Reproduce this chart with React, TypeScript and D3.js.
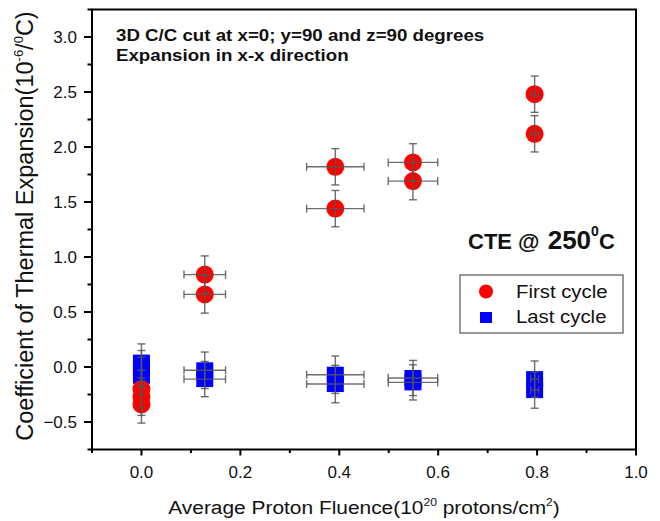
import React from "react";
import * as d3 from "d3";

const firstX = [0, 0, 0, 0.128, 0.128, 0.392, 0.392, 0.549, 0.549, 0.795, 0.795];
const firstY = [-0.2, -0.27, -0.34, 0.84, 0.66, 1.82, 1.44, 1.86, 1.69, 2.48, 2.12];
const firstXErr = [0, 0, 0, 0.042, 0.042, 0.058, 0.058, 0.05, 0.05, 0.008, 0.008];
const firstYErr = [0.17, 0.17, 0.17, 0.17, 0.17, 0.165, 0.165, 0.17, 0.17, 0.165, 0.165];

const lastX = [0, 0, 0, 0.128, 0.128, 0.392, 0.392, 0.549, 0.549, 0.795, 0.795];
const lastY = [0.04, -0.02, -0.08, -0.03, -0.11, -0.07, -0.155, -0.1, -0.14, -0.11, -0.21];
const lastXErr = [0, 0, 0, 0.042, 0.042, 0.058, 0.058, 0.05, 0.05, 0.008, 0.008];
const lastYErr = [0.17, 0.17, 0.17, 0.166, 0.16, 0.17, 0.17, 0.16, 0.16, 0.165, 0.165];

const xMajorTicks = [0, 0.2, 0.4, 0.6, 0.8, 1.0];
const xMinorTicks = [-0.1, 0.1, 0.3, 0.5, 0.7, 0.9];
const yMajorTicks = [-0.5, 0, 0.5, 1.0, 1.5, 2.0, 2.5, 3.0];
const yMinorTicks = [-0.75, -0.25, 0.25, 0.75, 1.25, 1.75, 2.25, 2.75, 3.25];

const seriesNames = ["First cycle", "Last cycle"];

const FONT = "'Liberation Sans', Arial, Helvetica, sans-serif";

export default function App() {
  const W = 660, H = 521;
  const left = 92, right = 636, top = 9.5, bottom = 449.5;
  const x = d3.scaleLinear().domain([-0.1, 1.0]).range([left, right]);
  const y = d3.scaleLinear().domain([-0.75, 3.25]).range([bottom, top]);
  const fmt = d3.format(".1f");

  const errColor = "#555";
  const cap = 4;

  const errorBars = (xs: number[], ys: number[], xe: number[], ye: number[], key: string) =>
    xs.map((xv, i) => {
      const cx = x(xv), cy = y(ys[i]);
      const y1 = y(ys[i] + ye[i]), y2 = y(ys[i] - ye[i]);
      const x1 = x(xv - xe[i]), x2 = x(xv + xe[i]);
      return (
        <g key={key + i} stroke={errColor} strokeWidth={1.4} strokeOpacity={0.85} fill="none">
          <line x1={cx} x2={cx} y1={y1} y2={y2} />
          <line x1={cx - cap} x2={cx + cap} y1={y1} y2={y1} />
          <line x1={cx - cap} x2={cx + cap} y1={y2} y2={y2} />
          {xe[i] > 0 && (
            <>
              <line x1={x1} x2={x2} y1={cy} y2={cy} />
              <line x1={x1} x2={x1} y1={cy - cap} y2={cy + cap} />
              <line x1={x2} x2={x2} y1={cy - cap} y2={cy + cap} />
            </>
          )}
        </g>
      );
    });

  return (
    <svg width={W} height={H} style={{ position: "absolute", left: 0, top: 0 }} fontFamily={FONT}>
      <rect width={W} height={H} fill="#fff" />

      {lastX.map((xv, i) => (
        <rect key={"sq" + i} x={x(xv) - 8.5} y={y(lastY[i]) - 8} width={17} height={16} fill="#0000ff" />
      ))}
      {firstX.map((xv, i) => (
        <circle key={"c" + i} cx={x(xv)} cy={y(firstY[i])} r={9} fill="#ff0000" />
      ))}
      {errorBars(lastX, lastY, lastXErr, lastYErr, "el")}
      {errorBars(firstX, firstY, firstXErr, firstYErr, "ef")}

      <rect x={left} y={top} width={right - left} height={bottom - top} fill="none" stroke="#000" strokeWidth={2} />

      {xMajorTicks.map((t) => (
        <g key={"xt" + t}>
          <line x1={x(t)} x2={x(t)} y1={bottom} y2={bottom + 6} stroke="#000" strokeWidth={2} />
          <text x={x(t)} y={478} textAnchor="middle" fontSize={17} fill="#111">{fmt(t)}</text>
        </g>
      ))}
      {xMinorTicks.map((t) => (
        <line key={"xm" + t} x1={x(t)} x2={x(t)} y1={bottom} y2={bottom + 3.5} stroke="#000" strokeWidth={2} />
      ))}
      {yMajorTicks.map((t) => (
        <g key={"yt" + t}>
          <line x1={left} x2={left - 8} y1={y(t)} y2={y(t)} stroke="#000" strokeWidth={2} />
          <text x={77} y={y(t)} dy="0.35em" textAnchor="end" fontSize={17} fill="#111">{fmt(t)}</text>
        </g>
      ))}
      {yMinorTicks.map((t) => (
        <line key={"ym" + t} x1={left} x2={left - 4.5} y1={y(t)} y2={y(t)} stroke="#000" strokeWidth={2} />
      ))}

      <text transform={`translate(364,514) scale(1.1,1)`} textAnchor="middle" fontSize={19} fill="#111">
        Average Proton Fluence(10<tspan fontSize={11} dy={-8}>20</tspan>
        <tspan dy={8}> protons/cm</tspan>
        <tspan fontSize={11} dy={-8}>2</tspan>
        <tspan dy={8}>)</tspan>
      </text>
      <text transform={`translate(33,226) rotate(-90)`} textAnchor="middle" fontSize={23.5} fill="#111">
        Coefficient of Thermal Expansion(10<tspan fontSize={13} dy={-10}>-6</tspan>
        <tspan dy={10}>/</tspan>
        <tspan fontSize={13} dy={-10}>0</tspan>
        <tspan dy={10}>C)</tspan>
      </text>

      <text transform={`translate(116,41) scale(1.1,1)`} fontSize={17} fontWeight="bold" fill="#111">
        3D C/C cut at x=0; y=90 and z=90 degrees
      </text>
      <text transform={`translate(116,61) scale(1.1,1)`} fontSize={17} fontWeight="bold" fill="#111">
        Expansion in x-x direction
      </text>
      <text x={468} y={249} fontWeight="bold" fill="#111">
        <tspan fontSize={22}>CTE @ </tspan>
        <tspan fontSize={26} dx={2}>250</tspan>
        <tspan fontSize={14} dy={-13}>0</tspan>
        <tspan fontSize={22} dy={13}>C</tspan>
      </text>

      <rect x={460} y={275} width={163} height={58} fill="#fff" stroke="#555" strokeWidth={1.2} />
      <circle cx={486} cy={291.5} r={7} fill="#ff0000" />
      <rect x={480} y={312} width={12} height={11} fill="#0000ff" />
      <text transform={`translate(516,297.5) scale(1.1,1)`} fontSize={18.5} fill="#111">{seriesNames[0]}</text>
      <text transform={`translate(516,323) scale(1.1,1)`} fontSize={18.5} fill="#111">{seriesNames[1]}</text>
    </svg>
  );
}
